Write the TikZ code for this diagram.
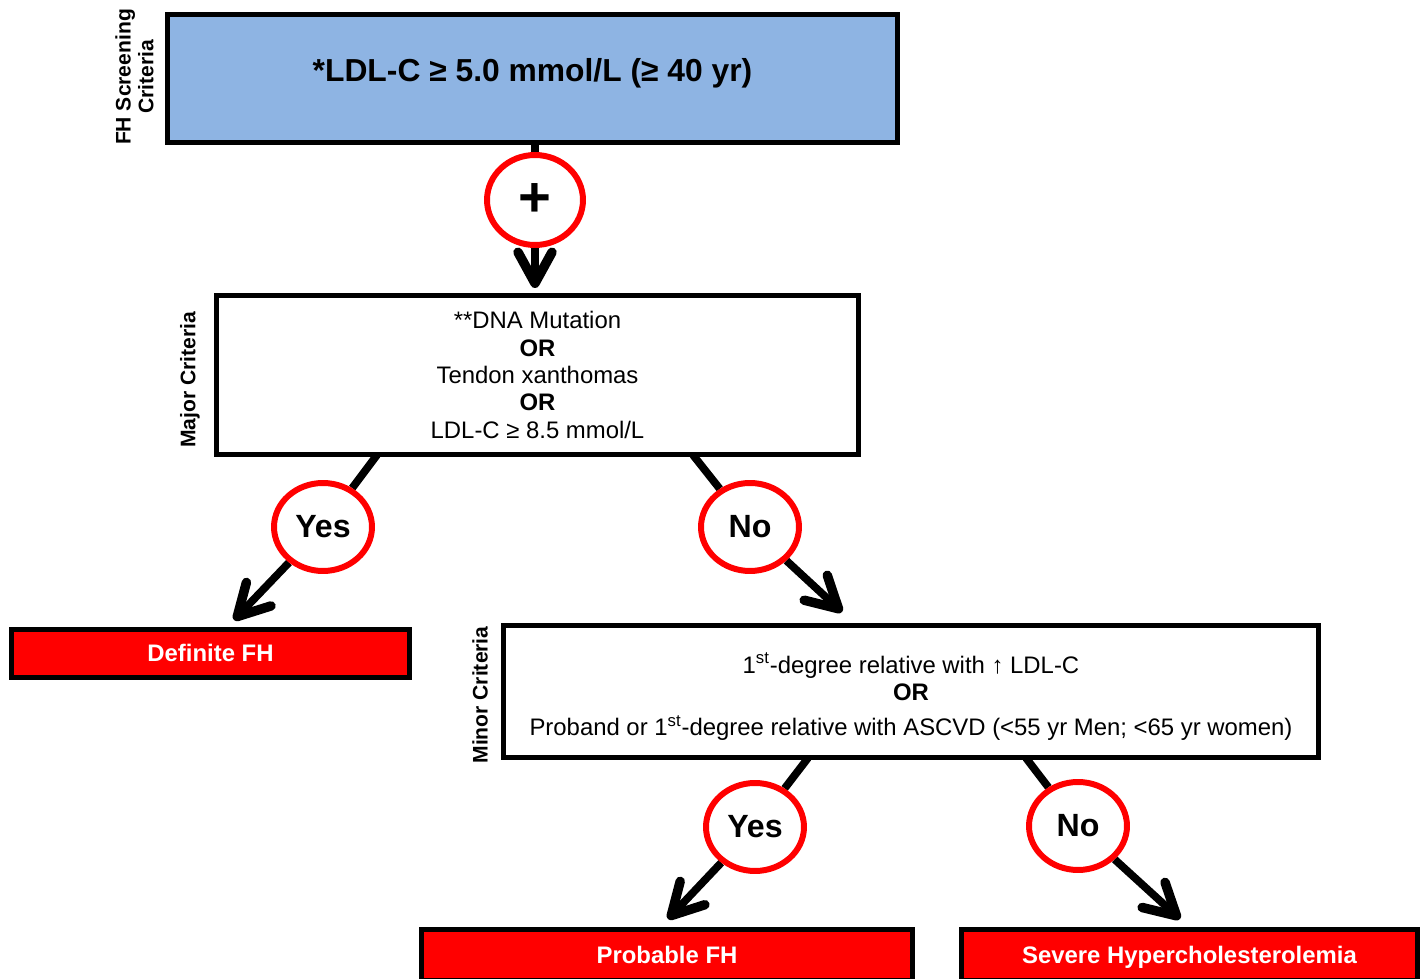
\documentclass[tikz,border=0pt]{standalone}
\usepackage{fontspec}
\setmainfont{Liberation Sans}
\usepackage{tikz}
\usetikzlibrary{arrows.meta,shapes.geometric,backgrounds}
\definecolor{screenblue}{RGB}{142,180,227}

\begin{document}
\begin{tikzpicture}[x=0.02cm,y=-0.02cm,
    box/.style={draw,line width=2.8pt,align=center,inner sep=0pt},
    crit/.style={box,fill=white,font=\fontsize{13.6}{15.6}\selectfont},
    result/.style={box,fill=red,text=white,text height=9.5pt,text depth=0pt,font=\bfseries\fontsize{13.6}{16}\selectfont},
    answer/.style={ellipse,draw=red,fill=white,line width=3.4pt,minimum width=1.96cm,minimum height=1.76cm,inner sep=0pt,font=\bfseries\fontsize{18.3}{22}\selectfont},
    side/.style={rotate=90,align=center,font=\bfseries\fontsize{12}{13}\selectfont},
    conn/.style={line width=4.4pt},
    arr/.style={conn,-{Straight Barb[length=0.62cm,width=0.68cm,line width=5.4pt,round]}}]
    \useasboundingbox (0,0) rectangle (1428,979);

    \node[box,fill=screenblue,minimum width=14.6cm,minimum height=2.56cm,font=\bfseries\fontsize{18.1}{22}\selectfont] (screen) at (532.5,78.5) {\raisebox{0.34cm}{*LDL-C ≥ 5.0 mmol/L (≥ 40 yr)}};
    \node[side] (screenlbl) at (134.5,77) {FH Screening\\Criteria};
    \node[answer,minimum width=1.92cm,minimum height=1.8cm,font=\bfseries\fontsize{32}{32}\selectfont] (plus) at (535,200) {+};

    \node[crit,minimum width=12.84cm,minimum height=3.18cm] (major) at (537.5,375) {**DNA Mutation\\\textbf{OR}\\Tendon xanthomas\\\textbf{OR}\\LDL-C ≥ 8.5 mmol/L};
    \node[side] (majorlbl) at (190,380) {Major Criteria};
    \node[answer] (yes1) at (323,527) {Yes};
    \node[answer] (no1) at (750,527) {No};

    \node[result,minimum width=7.96cm,minimum height=0.96cm] (definite) at (210.5,653.5) {Definite FH};
    \node[crit,minimum width=16.3cm,minimum height=2.64cm] (minor) at (911,691.5) {\rule{0pt}{17.5pt}1\textsuperscript{st}-degree relative with ↑ LDL-C\\\textbf{OR}\\[4.5pt]Proband or 1\textsuperscript{st}-degree relative with ASCVD (<55 yr Men; <65 yr women)};
    \node[side] (minorlbl) at (480,695) {Minor Criteria};
    \node[answer] (yes2) at (755,827) {Yes};
    \node[answer] (no2) at (1078,826) {No};

    \node[result,minimum width=9.82cm,minimum height=1.02cm] (probable) at (667,955) {Probable FH};
    \node[result,minimum width=9.12cm,minimum height=1.02cm] (severe) at (1189.5,955) {Severe Hypercholesterolemia};

    \coordinate (majorTip) at (535,288);
    \coordinate (majorYes) at (377,455);
    \coordinate (majorNo) at (693,455);
    \coordinate (definiteTip) at (234,620);
    \coordinate (minorTip) at (842,612);
    \coordinate (minorYes) at (808,758);
    \coordinate (minorNo) at (1026,758);
    \coordinate (probableTip) at (668,919);
    \coordinate (severeTip) at (1180,919);

    \begin{scope}[on background layer]
        \draw[conn] (plus |- screen.south) -- (plus);
        \draw[arr] (plus) -- (majorTip);
        \draw[conn] (majorYes) -- (yes1);
        \draw[arr] (yes1) -- (definiteTip);
        \draw[conn] (majorNo) -- (no1);
        \draw[arr] (no1) -- (minorTip);
        \draw[conn] (minorYes) -- (yes2);
        \draw[arr] (yes2) -- (probableTip);
        \draw[conn] (minorNo) -- (no2);
        \draw[arr] (no2) -- (severeTip);
    \end{scope}
\end{tikzpicture}
\end{document}
